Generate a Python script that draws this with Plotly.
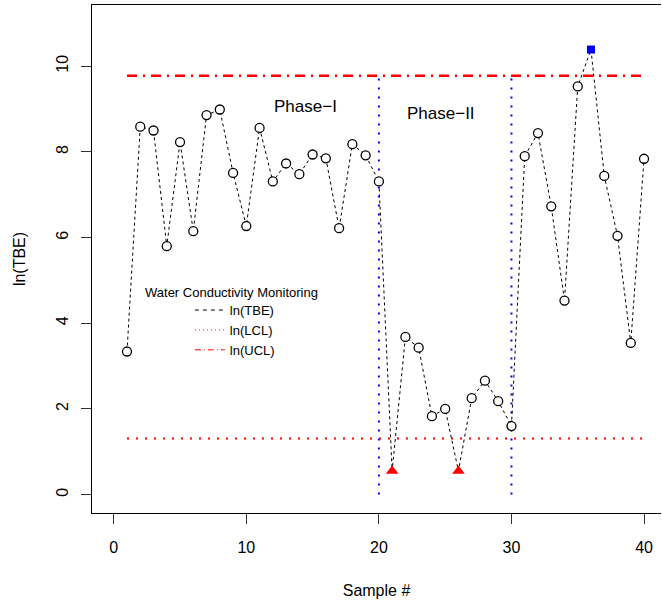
import plotly.graph_objects as go

# ---- data ----
sample = list(range(1, 41))
ln_tbe = [3.34, 8.59, 8.50, 5.80, 8.23, 6.15, 8.86, 8.99, 7.51, 6.27,
          8.56, 7.31, 7.73, 7.48, 7.94, 7.85, 6.22, 8.18, 7.92, 7.31,
          0.55, 3.68, 3.43, 1.83, 2.00, 0.55, 2.25, 2.66, 2.18, 1.60,
          7.90, 8.44, 6.73, 4.53, 9.53, 10.39, 7.44, 6.04, 3.54, 7.84]
low_signal = [21, 26]      # below LCL in Phase-II
high_signal = [36]         # above UCL
ln_lcl = 1.31
ln_ucl = 9.78
phase_bounds = [20, 30]
x_ticks = [0, 10, 20, 30, 40]
y_ticks = [0, 2, 4, 6, 8, 10]
legend_names = ["ln(TBE)", "ln(LCL)", "ln(UCL)"]

FONT = "Liberation Sans, Arial, Helvetica, sans-serif"

fig = go.Figure()

# vertical phase separators
for xb in phase_bounds:
    fig.add_trace(go.Scatter(x=[xb, xb], y=[0, ln_ucl], mode="lines",
                             line=dict(color="#0000ff", width=2, dash="2px,7px"),
                             showlegend=False, hoverinfo="skip"))

# control limits
fig.add_trace(go.Scatter(x=[sample[0], sample[-1]], y=[ln_lcl, ln_lcl], mode="lines",
                         name=legend_names[1], showlegend=False,
                         line=dict(color="#ff0000", width=2, dash="2px,7px")))
fig.add_trace(go.Scatter(x=[sample[0], sample[-1]], y=[ln_ucl, ln_ucl], mode="lines",
                         name=legend_names[2], showlegend=False,
                         line=dict(color="#ff0000", width=2.5, dash="10px,6px,2px,6px")))

# series line
fig.add_trace(go.Scatter(x=sample, y=ln_tbe, mode="lines", name=legend_names[0],
                         showlegend=False,
                         line=dict(color="black", width=1, dash="3px,3px")))

flag = set(low_signal) | set(high_signal)
cx = [s for s in sample if s not in flag]
cy = [v for s, v in zip(sample, ln_tbe) if s not in flag]
fig.add_trace(go.Scatter(x=cx, y=cy, mode="markers", showlegend=False,
                         marker=dict(symbol="circle", size=9, color="white",
                                     line=dict(color="black", width=1.3))))
fig.add_trace(go.Scatter(x=low_signal, y=[ln_tbe[s - 1] for s in low_signal], mode="markers",
                         showlegend=False,
                         marker=dict(symbol="triangle-up", size=11, color="#ff0000",
                                     line=dict(width=0))))
fig.add_trace(go.Scatter(x=high_signal, y=[ln_tbe[s - 1] for s in high_signal], mode="markers",
                         showlegend=False,
                         marker=dict(symbol="square", size=8, color="#0000ff",
                                     line=dict(width=0))))

# legend entries (thin keys like the original legend)
legend_styles = [dict(color="black", width=1, dash="4px,4px"),
                 dict(color="#ff0000", width=1, dash="1px,3px"),
                 dict(color="#ff0000", width=1, dash="6px,3px,1px,3px")]
for nm, st in zip(legend_names, legend_styles):
    fig.add_trace(go.Scatter(x=[None], y=[None], mode="lines", name=nm, line=st,
                             showlegend=True))

fig.add_annotation(x=14.5, y=9.06, text="Phase\u2212I", showarrow=False,
                   font=dict(size=17, color="black", family=FONT))
fig.add_annotation(x=24.7, y=8.9, text="Phase\u2212II", showarrow=False,
                   font=dict(size=17, color="black", family=FONT))
fig.add_annotation(x=2.2, y=4.71, xanchor="left", yanchor="middle",
                   text="Water Conductivity Monitoring", showarrow=False,
                   font=dict(size=13, color="black", family=FONT))

fig.update_layout(
    width=662, height=600,
    margin=dict(l=92, r=1, t=5, b=87),
    paper_bgcolor="white", plot_bgcolor="white",
    font=dict(family=FONT, color="black", size=16),
    legend=dict(x=0.172, y=0.429, xanchor="left", yanchor="top",
                bgcolor="rgba(0,0,0,0)", font=dict(size=13),
                tracegroupgap=0, itemwidth=30, traceorder="normal"),
    showlegend=True,
)
fig.update_xaxes(range=[-1.64, 41.28], tickvals=x_ticks, ticks="outside", ticklen=10,
                 tickcolor="#333", showline=True, linecolor="black", linewidth=1.3,
                 mirror=True, showgrid=False, zeroline=False,
                 title=dict(text="Sample #", standoff=29, font=dict(size=16)),
                 tickfont=dict(size=16), ticklabelstandoff=10)
fig.update_yaxes(range=[-0.43, 11.43], tickvals=y_ticks, ticks="outside", ticklen=10,
                 tickcolor="#333", showline=True, linecolor="black", linewidth=1.3,
                 mirror=False, showgrid=False, zeroline=False, tickangle=-90,
                 title=dict(text="ln(TBE)", standoff=24, font=dict(size=16)),
                 tickfont=dict(size=16), ticklabelstandoff=6)

fig.write_html("out.html", config={"displayModeBar": False},
               post_script="document.body.style.margin='0px';")
